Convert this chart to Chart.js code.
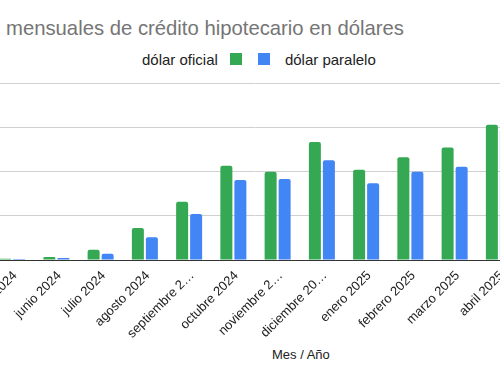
<!DOCTYPE html>
<html>
<head>
<meta charset="utf-8">
<title>Cuotas mensuales de crédito hipotecario</title>
<script src="https://cdn.jsdelivr.net/npm/chart.js@4.4.1/dist/chart.umd.min.js"></script>
<style>
  body { margin: 0; width: 500px; height: 380px; overflow: hidden; background: #fff; position: relative; font-family: "Liberation Sans", Arial, sans-serif; }
  #title { position: absolute; left: 6px; top: 17px; font-size: 20.3px; color: #757575; white-space: nowrap; }
  #legend { position: absolute; left: 142px; top: 49px; font-size: 15px; color: #222; white-space: nowrap; }
  #legend span { display: inline-block; vertical-align: middle; }
  #legend .box { width: 12px; height: 12px; }
  #axisTitle { position: absolute; left: 272px; top: 347px; font-size: 13px; color: #222; }
  #wrap { position: absolute; left: -10px; top: 0; width: 531px; height: 380px; }
</style>
</head>
<body>

<div id="title">mensuales de crédito hipotecario en dólares</div>
<div id="legend"></div>
<div id="axisTitle">Mes / Año</div>
<div id="wrap"><canvas id="chart" width="531" height="380"></canvas></div>

<script>
// months (Google truncates the long ones)
const months = ['mayo 2024', 'junio 2024', 'julio 2024', 'agosto 2024', 'septiembre 2…', 'octubre 2024',
  'noviembre 2…', 'diciembre 20…', 'enero 2025', 'febrero 2025', 'marzo 2025', 'abril 2025'];

// y axis labels are cut off so scale is 0..2000
const oficial = [15, 34, 116, 362, 659, 1066, 998, 1333, 1020, 1160, 1271, 1527];
const paralelo = [10, 22, 71, 256, 520, 904, 915, 1127, 867, 998, 1054, 1477];

const yTicks = [0, 500, 1000, 1500, 2000];

const seriesNames = ['dólar oficial', 'dólar paralelo'];
const seriesColors = ['#34a853', '#4285f4'];

// legend: label, box, box, label
const legend = document.getElementById('legend');
legend.innerHTML =
  '<span>' + seriesNames[0] + '</span>' +
  '<span class="box" style="background:' + seriesColors[0] + ';margin-left:12px"></span>' +
  '<span class="box" style="background:' + seriesColors[1] + ';margin-left:16px"></span>' +
  '<span style="margin-left:15px">' + seriesNames[1] + '</span>';

const bar = (label, data, color) => ({
  label: label,
  data: data,
  backgroundColor: color,
  borderWidth: 0,
  borderRadius: { topLeft: 2, topRight: 2 },
  borderSkipped: 'start',
  barPercentage: 0.857,
  categoryPercentage: 0.633
});

new Chart(document.getElementById('chart'), {
  type: 'bar',
  data: {
    labels: months,
    datasets: [
      bar(seriesNames[0], oficial, seriesColors[0]),
      bar(seriesNames[1], paralelo, seriesColors[1])
    ]
  },
  options: {
    responsive: false,
    animation: false,
    layout: { padding: { top: 83, left: 0, right: 0, bottom: 0 } },
    plugins: { legend: { display: false }, title: { display: false }, tooltip: { enabled: false } },
    scales: {
      x: {
        grid: { display: false },
        border: { color: '#333' },
        ticks: {
          color: '#222',
          font: { family: '"Liberation Sans", Arial', size: 13 },
          minRotation: 45,
          maxRotation: 45,
          autoSkip: false,
          padding: 0,
          labelOffset: 3
        },
        afterFit: s => { s.height = 120; s.paddingLeft = 0; s.paddingRight = 0; }
      },
      y: {
        min: yTicks[0],
        max: yTicks[yTicks.length - 1],
        afterBuildTicks: s => { s.ticks = yTicks.map(v => ({ value: v })); },
        grid: {
          drawTicks: false,
          color: c => c.tick.value === 0 ? '#333' : '#d0d0d0'
        },
        border: { display: false },
        ticks: { display: false },
        afterFit: s => { s.width = 0; }
      }
    }
  }
});
</script>

</body>
</html>
